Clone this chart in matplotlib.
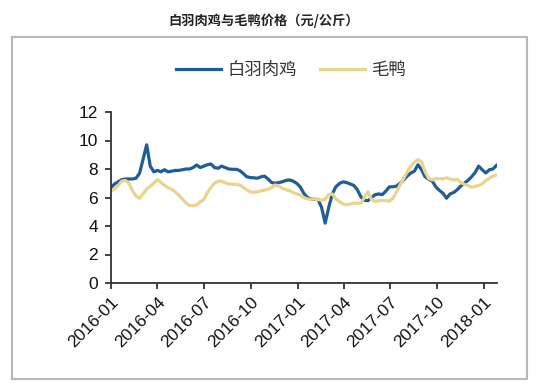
import matplotlib.pyplot as plt
import numpy as np
import pandas as pd
from matplotlib.patches import Rectangle

plt.rcParams['font.family'] = ['Liberation Sans', 'Noto Sans CJK SC', 'DejaVu Sans']

# weekly prices, 2016-01-01 onwards
dates = pd.date_range('2016-01-01', periods=109, freq='7D')

chicken = [
    6.7, 6.95, 7.1, 7.25, 7.3, 7.3, 7.3, 7.35, 7.7, 8.7,
    9.7, 8.2, 7.8, 7.9, 7.8, 7.95, 7.8, 7.85, 7.9, 7.9,
    7.95, 8.0, 8.0, 8.1, 8.28, 8.1, 8.2, 8.3, 8.35, 8.1,
    8.05, 8.2, 8.1, 8.0, 7.98, 7.98, 7.9, 7.7, 7.46, 7.4,
    7.38, 7.35, 7.45, 7.5, 7.3, 7.05, 7.0, 7.05, 7.1, 7.2,
    7.23, 7.15, 7.0, 6.75, 6.3, 6.0, 5.9, 5.87, 5.87, 5.3,
    4.2, 5.3, 6.25, 6.75, 6.98, 7.1, 7.05, 6.95, 6.85, 6.55,
    6.05, 5.8, 5.78, 6.0, 6.2, 6.25, 6.2, 6.45, 6.75, 6.75,
    6.8, 7.0, 7.25, 7.5, 7.72, 7.85, 8.3, 7.95, 7.45, 7.28,
    7.15, 6.75, 6.5, 6.3, 5.95, 6.25, 6.35, 6.55, 6.8, 7.0,
    7.2, 7.45, 7.75, 8.2, 7.95, 7.72, 7.95, 8.0, 8.25,
]

duck = [
    6.45, 6.6, 6.85, 7.15, 7.2, 7.0, 6.5, 6.1, 5.95, 6.25,
    6.6, 6.78, 7.0, 7.25, 7.05, 6.85, 6.7, 6.57, 6.4, 6.15,
    5.9, 5.62, 5.45, 5.42, 5.47, 5.7, 5.85, 6.35, 6.7, 7.0,
    7.15, 7.15, 7.03, 6.95, 6.93, 6.92, 6.88, 6.72, 6.55, 6.4,
    6.37, 6.4, 6.47, 6.52, 6.58, 6.7, 6.88, 6.8, 6.65, 6.55,
    6.48, 6.35, 6.25, 6.18, 6.0, 5.9, 5.87, 5.9, 5.85, 5.82,
    5.87, 6.2, 6.25, 5.9, 5.72, 5.55, 5.48, 5.54, 5.6, 5.6,
    5.6, 6.0, 6.4, 5.85, 5.72, 5.78, 5.8, 5.78, 5.75, 5.95,
    6.4, 6.9, 7.35, 7.8, 8.2, 8.48, 8.65, 8.5, 7.8, 7.33,
    7.23, 7.32, 7.32, 7.3, 7.38, 7.3, 7.23, 7.27, 7.05, 6.92,
    6.85, 6.72, 6.78, 6.85, 6.95, 7.18, 7.35, 7.5, 7.58,
]

tick_labels = ['2016-01', '2016-04', '2016-07', '2016-10', '2017-01',
               '2017-04', '2017-07', '2017-10', '2018-01']

fig = plt.figure(figsize=(5.39, 3.91), dpi=100)
ax = fig.add_axes([111 / 539, 1 - 283 / 391, 386 / 539, 171 / 391])

# grey frame around the chart
fig.patches.append(Rectangle((12 / 539, 1 - 379 / 391), 515 / 539, 342 / 391,
                             transform=fig.transFigure, fill=False,
                             edgecolor='#b8b8b8', linewidth=1.5))

ax.plot(dates, chicken, color='#1f5d96', linewidth=2.3, label='白羽肉鸡')
ax.plot(dates, duck, color='#e8d48c', linewidth=2.3, label='毛鸭')

ax.set_ylim(0, 12)
ax.set_yticks(np.arange(0, 13, 2))
ax.set_xlim(dates[0], dates[-1] + pd.Timedelta(days=1))
ticks = pd.to_datetime([t + '-01' for t in tick_labels])
ax.set_xticks(ticks)
ax.set_xticklabels(tick_labels, rotation=45, ha='right', rotation_mode='anchor')

for s in ['top', 'right']:
    ax.spines[s].set_visible(False)
for s in ['left', 'bottom']:
    ax.spines[s].set_color('#333333')
    ax.spines[s].set_linewidth(1.3)
ax.tick_params(axis='both', colors='#333333', width=1.3, length=4.5,
               labelsize=12.5, labelcolor='#111111')
ax.tick_params(axis='x', pad=4)
ax.tick_params(axis='y', pad=5)

fig.text(0.49, 1 - 21 / 391, '白羽肉鸡与毛鸭价格（元/公斤）', ha='center', va='center',
         fontsize=9.5, fontweight='bold', family=['Noto Sans CJK SC', 'DejaVu Sans'],
         color='#222222')

leg = fig.legend(loc='center', bbox_to_anchor=(0.54, 1 - 70 / 391), ncol=2,
                 frameon=False, handlelength=2.6, columnspacing=1.3,
                 handletextpad=0.4, prop={'family': ['Noto Sans CJK SC'], 'size': 12.5})
for t in leg.get_texts():
    t.set_color('#333333')

fig.savefig('out.png', dpi=100)
